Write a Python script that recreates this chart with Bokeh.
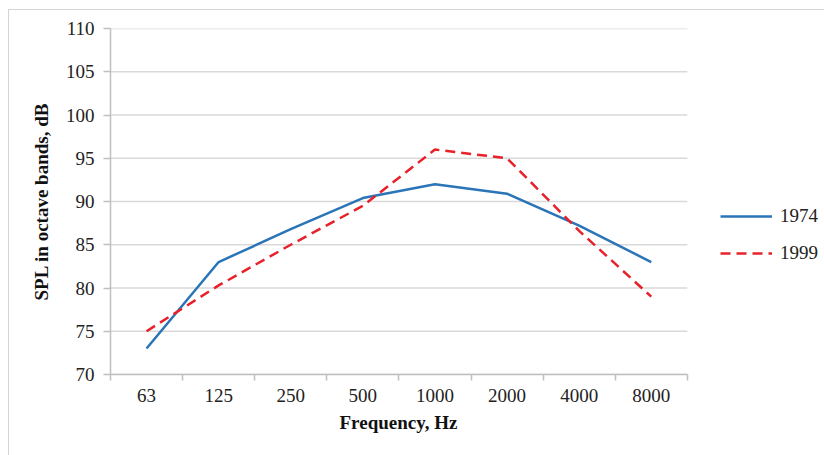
from bokeh.plotting import figure
from bokeh.models import FixedTicker, Legend, LegendItem, ColumnDataSource, Title
from bokeh.embed import file_html
from bokeh.resources import INLINE

# Octave-band centre frequencies and measured SPL levels
bands = ["63", "125", "250", "500", "1000", "2000", "4000", "8000"]
spl_1974 = [73.0, 83.0, 86.8, 90.4, 92.0, 90.9, 87.2, 83.0]
spl_1999 = [75.0, 80.3, 85.0, 89.5, 96.0, 95.0, 86.6, 79.0]
y_ticks = [70, 75, 80, 85, 90, 95, 100, 105, 110]

n = len(bands)
# each band sits in the middle of its own slot
xpos = [i + 0.5 for i in range(n)]
src = ColumnDataSource(dict(x=xpos, a=spl_1974, b=spl_1999))

SERIF = "Liberation Serif"
FS = "19px"
SLOT_PX = 72          # width of one band slot in pixels
RIGHT_PX = 138        # room kept on the right for the legend

p = figure(width=816, height=446,
           x_range=(0, n + RIGHT_PX / SLOT_PX), y_range=(70, 110),
           output_backend="svg", toolbar_location=None,
           min_border_left=101, min_border_right=0,
           min_border_top=18, min_border_bottom=82)
p.margin = (9, 0, 0, 8)
p.styles = {"border-top": "1px solid #d4d4d4", "border-left": "1px solid #d4d4d4",
            "box-sizing": "border-box"}
p.outline_line_color = None
p.background_fill_color = "white"
p.border_fill_color = "white"

# horizontal grid lines only across the band slots
p.xgrid.grid_line_color = None
p.ygrid.grid_line_color = None
p.segment(x0=[0] * len(y_ticks), x1=[n] * len(y_ticks), y0=y_ticks, y1=y_ticks,
          line_color="#d9d9d9", line_width=1.5)

# x axis: labels at slot centres, tick marks on slot boundaries
p.xaxis.bounds = (0, n)
p.xaxis.ticker = FixedTicker(ticks=xpos, minor_ticks=list(range(n + 1)))
p.xaxis.major_label_overrides = {x: b for x, b in zip(xpos, bands)}
p.xaxis.major_tick_line_color = None
p.xaxis.minor_tick_in = 0
p.xaxis.minor_tick_out = 6
p.xaxis.minor_tick_line_color = "#bfbfbf"
p.xaxis.minor_tick_line_width = 1.5
p.xaxis.major_label_standoff = 8

p.yaxis.ticker = FixedTicker(ticks=y_ticks)
p.yaxis.minor_tick_line_color = None
p.yaxis.major_tick_in = 0
p.yaxis.major_tick_out = 7
p.yaxis.major_tick_line_color = "#bfbfbf"
p.yaxis.major_tick_line_width = 1.5
p.yaxis.major_label_standoff = 9
p.yaxis.axis_label = "SPL in octave bands, dB"
p.yaxis.axis_label_standoff = 11
p.yaxis.axis_label_text_font = SERIF
p.yaxis.axis_label_text_font_size = FS
p.yaxis.axis_label_text_font_style = "bold"
p.yaxis.axis_label_text_color = "#111111"

for ax in (p.xaxis, p.yaxis):
    ax.axis_line_color = "#bfbfbf"
    ax.axis_line_width = 1.5
    ax.major_label_text_font = SERIF
    ax.major_label_text_font_size = FS
    ax.major_label_text_color = "#222222"

# x axis title, centred under the band slots rather than the whole frame
xtitle = Title(text="Frequency, Hz", align="left", offset=229, standoff=10,
               text_font=SERIF, text_font_size=FS, text_font_style="bold",
               text_color="#111111")
p.add_layout(xtitle, "below")

r1 = p.line("x", "a", source=src, line_color="#2a74b8", line_width=2.5)
r2 = p.line("x", "b", source=src, line_color="#e8202a", line_width=2.5,
            line_dash="10 6")

# legend to the right of the band slots, offset from the frame's lower-left corner
legend = Legend(items=[LegendItem(label="1974", renderers=[r1]),
                       LegendItem(label="1999", renderers=[r2])],
                location=(610, 110), orientation="vertical",
                glyph_width=52, glyph_height=20, label_standoff=8, spacing=15,
                padding=0, margin=0,
                label_text_font=SERIF, label_text_font_size=FS,
                label_text_color="#222222",
                border_line_color=None, background_fill_alpha=0)
p.add_layout(legend)

open("out.html", "w").write(file_html(p, INLINE))
